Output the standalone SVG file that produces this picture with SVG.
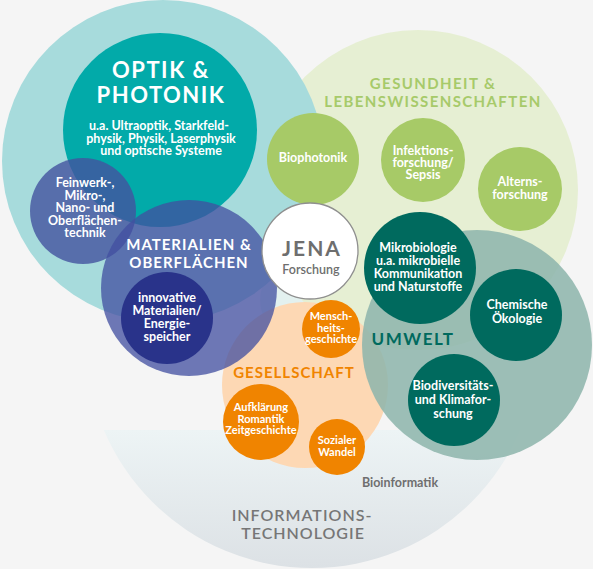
<svg xmlns="http://www.w3.org/2000/svg" width="593" height="569" viewBox="0 0 593 569">
<defs>
<linearGradient id="itg" x1="0" y1="430" x2="0" y2="569" gradientUnits="userSpaceOnUse">
<stop offset="0" stop-color="#edf4f5"/>
<stop offset="1" stop-color="#dce1e5"/>
</linearGradient>
<clipPath id="itclip"><rect x="0" y="430" width="593" height="139"/></clipPath>
<style>
text{font-family:Lato,"Open Sans","Liberation Sans",sans-serif;font-weight:700;text-anchor:middle}
.w{fill:#fff}
.md{font-size:12.5px}
.ttl{font-size:15px;letter-spacing:1px}
.green{fill:#a7ca67}
.dk{fill:#006a5e}
.or{fill:#f08400}
.mat{fill:#424fa0;opacity:0.76}
</style>
</defs>
<rect width="593" height="569" fill="#f5f5f5"/>
<circle cx="300" cy="300" r="40" fill="#e3f1ef"/>

<g id="informationstechnologie">
<circle cx="312" cy="342" r="226" fill="url(#itg)" clip-path="url(#itclip)"/>
<text x="302" y="521" style="font-size:16px;letter-spacing:1px;font-weight:600" fill="#767676">INFORMATIONS-</text>
<text x="303" y="539" style="font-size:16px;letter-spacing:1px;font-weight:600" fill="#767676">TECHNOLOGIE</text>
<text x="400" y="487" style="font-size:12.5px" fill="#6f6f6f">Bioinformatik</text>
</g>

<g id="gesundheit">
<circle cx="418" cy="190" r="160" fill="#e6efd3"/>
</g>

<g id="optik-outer">
<circle cx="163" cy="161" r="161" fill="#a7dbdc"/>
</g>

<g id="optik">
<circle cx="160" cy="130" r="97" fill="#02aaa9"/>
<text x="161" y="78" class="w" style="font-size:22px;letter-spacing:1.5px">OPTIK &amp;</text>
<text x="161" y="103" class="w" style="font-size:22px;letter-spacing:1.5px">PHOTONIK</text>
<text x="159" y="130" class="w md">u.a. Ultraoptik, Starkfeld-</text>
<text x="161" y="142.5" class="w md">physik, Physik, Laserphysik</text>
<text x="161" y="155" class="w md">und optische Systeme</text>
</g>

<g id="gesundheit-title">
<text x="433" y="89" class="ttl" fill="#a7ca6a" style="letter-spacing:1.4px">GESUNDHEIT &amp;</text>
<text x="433" y="107" class="ttl" fill="#a7ca6a" style="letter-spacing:1.4px">LEBENSWISSENSCHAFTEN</text>
</g>

<g id="biophotonik">
<circle cx="313" cy="159" r="46" class="green"/>
<text x="313" y="162" class="w md">Biophotonik</text>
</g>
<g id="infektionsforschung">
<circle cx="423" cy="160" r="42" class="green"/>
<text x="423" y="155" class="w md">Infektions-</text>
<text x="423" y="167" class="w md">forschung/</text>
<text x="423" y="179" class="w md">Sepsis</text>
</g>
<g id="alternsforschung">
<circle cx="520" cy="189" r="42" class="green"/>
<text x="520" y="186" class="w md">Alterns-</text>
<text x="520" y="198.5" class="w md">forschung</text>
</g>

<g id="gesellschaft">
<circle cx="305" cy="385" r="83" fill="#fdd8b4"/>
<text x="294" y="378" class="ttl or">GESELLSCHAFT</text>
</g>

<g id="feinwerk">
<circle cx="83" cy="211" r="53" fill="#44529f" opacity="0.8"/>
<text x="85" y="187" class="w md">Feinwerk-,</text>
<text x="85" y="199.5" class="w md">Mikro-,</text>
<text x="85" y="212" class="w md">Nano- und</text>
<text x="85" y="224.5" class="w md">Oberflächen-</text>
<text x="85" y="237" class="w md">technik</text>
</g>

<g id="materialien">
<circle cx="189" cy="288" r="88" class="mat"/>
<text x="189" y="250" class="w ttl">MATERIALIEN &amp;</text>
<text x="189" y="268" class="w ttl">OBERFLÄCHEN</text>
</g>

<g id="innovative-materialien">
<circle cx="167" cy="318" r="46" fill="#29338a"/>
<text x="167" y="302" class="w md">innovative</text>
<text x="167" y="315" class="w md">Materialien/</text>
<text x="167" y="328" class="w md">Energie-</text>
<text x="167" y="341" class="w md">speicher</text>
</g>

<g id="jena">
<circle cx="310" cy="251" r="48" fill="#ffffff" stroke="#8f8f8f" stroke-width="1.3"/>
<text x="312" y="256" style="font-size:21px;letter-spacing:2px" fill="#6e6e6e">JENA</text>
<text x="311" y="274" style="font-size:12.5px;font-weight:600" fill="#6e6e6e">Forschung</text>
</g>

<g id="menschheitsgeschichte">
<circle cx="331" cy="329" r="29" class="or"/>
<text x="331" y="320" class="w" style="font-size:11px">Mensch-</text>
<text x="331" y="331.5" class="w" style="font-size:11px">heits-</text>
<text x="331" y="343" class="w" style="font-size:11px">geschichte</text>
</g>
<g id="aufklaerung">
<circle cx="261" cy="422" r="38" class="or"/>
<text x="261" y="411" class="w" style="font-size:11px">Aufklärung</text>
<text x="261" y="422.5" class="w" style="font-size:11px">Romantik</text>
<text x="261" y="434" class="w" style="font-size:11px">Zeitgeschichte</text>
</g>
<g id="sozialer-wandel">
<circle cx="337" cy="447" r="28" class="or"/>
<text x="337" y="444" class="w" style="font-size:11px">Sozialer</text>
<text x="337" y="456" class="w" style="font-size:11px">Wandel</text>
</g>

<g id="umwelt">
<circle cx="477" cy="345" r="115" fill="#8fb5ac" opacity="0.87"/>
<text x="413" y="345" style="font-size:17px;letter-spacing:1.5px" class="dk">UMWELT</text>
</g>
<g id="mikrobiologie">
<circle cx="420" cy="268" r="56" class="dk"/>
<text x="418" y="252" class="w md">Mikrobiologie</text>
<text x="418" y="265" class="w md">u.a. mikrobielle</text>
<text x="418" y="278" class="w md">Kommunikation</text>
<text x="418" y="291" class="w md">und Naturstoffe</text>
</g>
<g id="chemische-oekologie">
<circle cx="516" cy="315" r="46" class="dk"/>
<text x="517" y="309" class="w md">Chemische</text>
<text x="517" y="323" class="w md">Ökologie</text>
</g>
<g id="biodiversitaet">
<circle cx="454" cy="400" r="46" class="dk"/>
<text x="453" y="390" class="w md">Biodiversitäts-</text>
<text x="453" y="404" class="w md">und Klimafor-</text>
<text x="453" y="418" class="w md">schung</text>
</g>
<g id="connectors"/>
</svg>
